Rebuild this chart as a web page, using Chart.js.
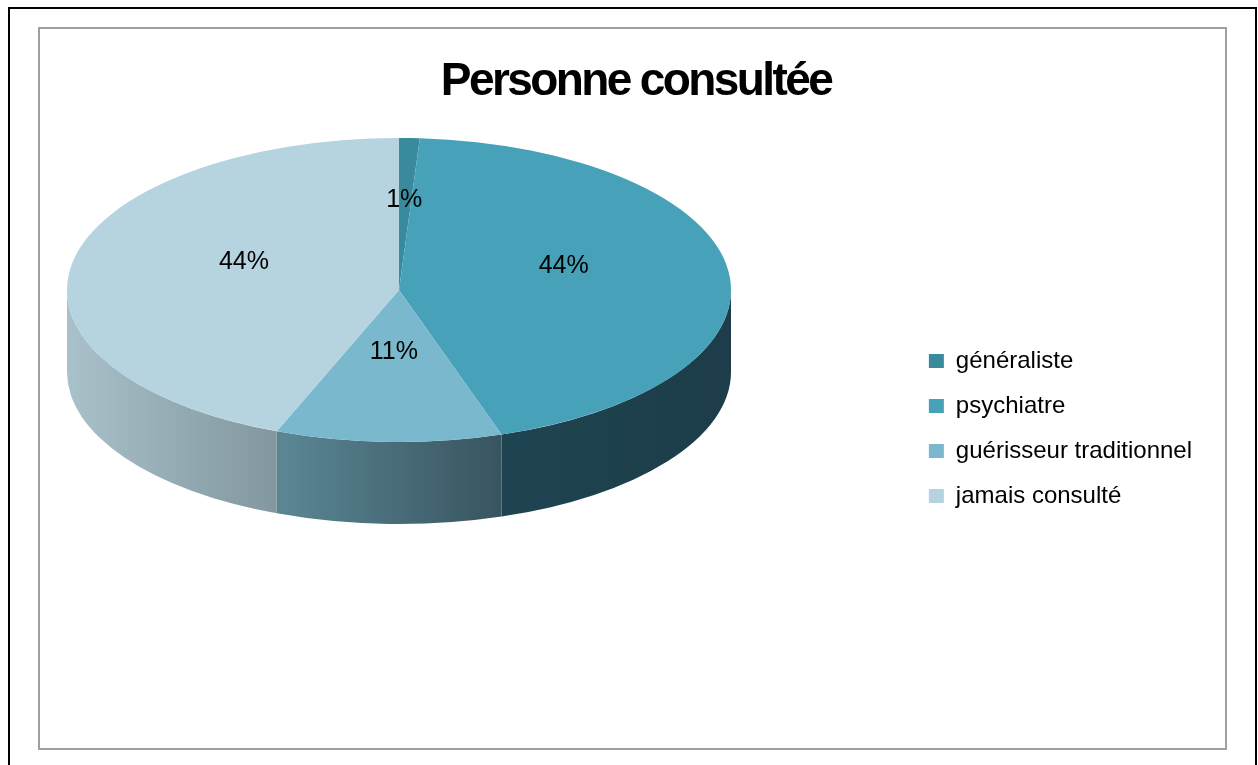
<!DOCTYPE html>
<html>
<head>
<meta charset="utf-8">
<title>Personne consultée</title>
<script src="https://cdn.jsdelivr.net/npm/chart.js@4.4.1/dist/chart.umd.min.js"></script>
<style>
  html, body { margin: 0; padding: 0; background: #fff; }
  body { width: 1258px; height: 765px; position: relative; overflow: hidden; }
  #outer { position: absolute; left: 8px; top: 7px; width: 1249px; height: 800px; border: 2px solid #000; box-sizing: border-box; }
  #inner { position: absolute; left: 38px; top: 27px; width: 1189px; height: 723px; border: 2px solid #a0a0a0; box-sizing: border-box; }
  #myPieChart { position: absolute; left: 0; top: 0; }
</style>
</head>
<body>
<div id="outer"></div>
<div id="inner"></div>
<canvas id="myPieChart" width="1258" height="765"></canvas>
<script>
var titleText = "Personne consultée";
var categories = ["généraliste", "psychiatre", "guérisseur traditionnel", "jamais consulté"];
var percentages = [1, 44, 11, 44];

var topColors = ["#3a8a9e", "#46a1b9", "#7ab8cd", "#b5d4df"];
// side walls: lighter on the left, darker on the right
var sideLight = ["#2c6878", "#1f4451", "#5b8795", "#a9c1ca"];
var sideDark = ["#1f4653", "#1c3d49", "#385460", "#8297a0"];

// where the squashed pie sits on the page
var PIE = { cx: 399, cy: 290, rx: 332, ry: 152, depth: 82 };

function toEllipse(arc, x, y) {
    return {
        x: PIE.cx + (x - arc.x) * PIE.rx / arc.outerRadius,
        y: PIE.cy + (y - arc.y) * PIE.ry / arc.outerRadius
    };
}

var pie3d = {
    id: 'pie3d',
    beforeDatasetsDraw: function(chart) {
        var ctx = chart.ctx;
        var arcs = chart.getDatasetMeta(0).data;

        // front wall, only the part facing us (angles 0..PI)
        arcs.forEach(function(arc, i) {
            var a1 = Math.max(arc.startAngle, 0);
            var a2 = Math.min(arc.endAngle, Math.PI);
            if (a2 <= a1) return;
            var xa = PIE.cx + PIE.rx * Math.cos(a1);
            var xb = PIE.cx + PIE.rx * Math.cos(a2);
            var grad = ctx.createLinearGradient(Math.min(xa, xb), 0, Math.max(xa, xb), 0);
            grad.addColorStop(0, sideLight[i]);
            grad.addColorStop(1, sideDark[i]);
            ctx.beginPath();
            ctx.ellipse(PIE.cx, PIE.cy, PIE.rx, PIE.ry, 0, a1, a2, false);
            ctx.ellipse(PIE.cx, PIE.cy + PIE.depth, PIE.rx, PIE.ry, 0, a2, a1, true);
            ctx.closePath();
            ctx.fillStyle = grad;
            ctx.fill();
        });

        // top face: the library's circle, squashed into an ellipse
        var a0 = arcs[0];
        ctx.save();
        ctx.translate(PIE.cx, PIE.cy);
        ctx.scale(PIE.rx / a0.outerRadius, PIE.ry / a0.outerRadius);
        ctx.translate(-a0.x, -a0.y);
    },
    afterDatasetsDraw: function(chart) {
        var ctx = chart.ctx;
        ctx.restore();

        // percentage labels
        var arcs = chart.getDatasetMeta(0).data;
        ctx.save();
        ctx.font = '25px "Liberation Sans", Arial, sans-serif';
        ctx.fillStyle = '#000';
        ctx.textAlign = 'center';
        ctx.textBaseline = 'middle';
        arcs.forEach(function(arc, i) {
            var c = arc.getCenterPoint();
            var p = toEllipse(arc, c.x, c.y);
            ctx.fillText(percentages[i] + '%', p.x + (p.x < PIE.cx - 50 ? 8 : 0), p.y - 14);
        });
        ctx.restore();
    },
    afterDraw: function(chart) {
        // tight bold title
        var ctx = chart.ctx;
        ctx.save();
        ctx.font = 'bold 46px "Liberation Sans", Arial, sans-serif';
        ctx.letterSpacing = '-2.6px';
        ctx.fillStyle = '#000';
        ctx.textAlign = 'center';
        ctx.textBaseline = 'alphabetic';
        ctx.fillText(titleText, 636, 95);
        ctx.restore();
    }
};

new Chart(document.getElementById("myPieChart"), {
    type: 'pie',
    data: {
        labels: categories,
        datasets: [{
            label: titleText,
            data: percentages,
            backgroundColor: topColors,
            borderWidth: 0
        }]
    },
    options: {
        responsive: false,
        animation: false,
        events: [],
        layout: { padding: { left: 40, right: 56, top: 110, bottom: 18 } },
        plugins: {
            title: { display: false },
            tooltip: { enabled: false },
            legend: {
                position: 'right',
                labels: {
                    boxWidth: 15,
                    boxHeight: 14,
                    padding: 21,
                    color: '#000',
                    font: { family: '"Liberation Sans", Arial, sans-serif', size: 24 }
                }
            }
        }
    },
    plugins: [pie3d]
});
</script>
</body>
</html>
